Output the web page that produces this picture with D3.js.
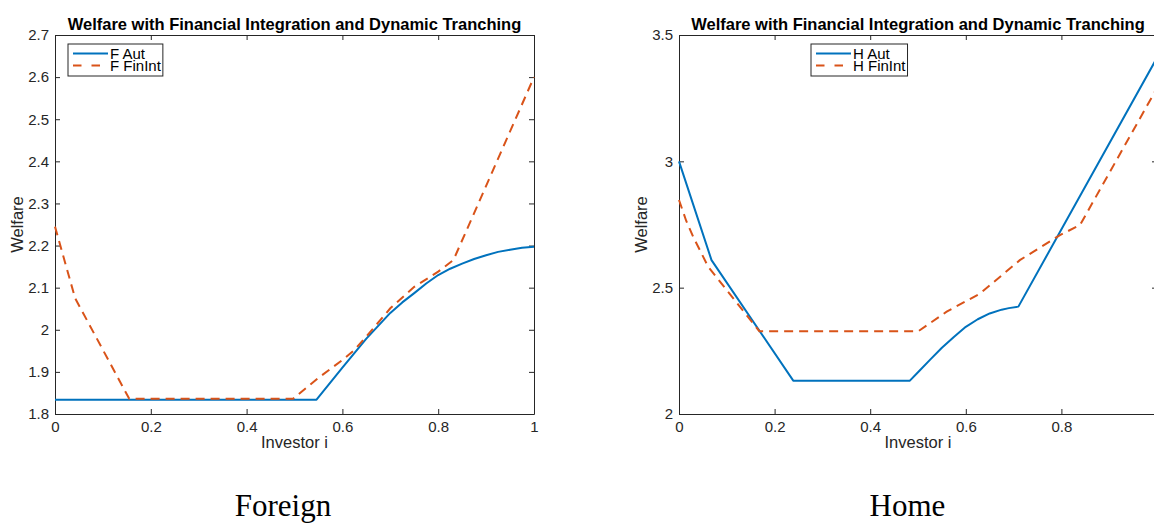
<!DOCTYPE html>
<html>
<head>
<meta charset="utf-8">
<script src="https://cdn.jsdelivr.net/npm/d3@7"></script>
<style>
  html, body { margin: 0; padding: 0; background: #fff; }
  svg { display: block; }
  text { font-family: "Liberation Sans", Arial, Helvetica, sans-serif; }
</style>
</head>
<body>
<svg id="chart" width="1154" height="523"></svg>
<script>
// values
const xTicks = [0, 0.2, 0.4, 0.6, 0.8, 1];
const foreignYTicks = [1.8, 1.9, 2.0, 2.1, 2.2, 2.3, 2.4, 2.5, 2.6, 2.7];
const homeYTicks = [2, 2.5, 3, 3.5];

const foreignAutX = [0, 0.546, 0.60, 0.65, 0.70, 0.725, 0.75, 0.775, 0.80, 0.825, 0.85, 0.875, 0.90, 0.925, 0.95, 0.975, 1.0];
const foreignAutY = [1.834, 1.834, 1.910, 1.979, 2.040, 2.065, 2.087, 2.110, 2.130, 2.145, 2.157, 2.168, 2.177, 2.185, 2.190, 2.195, 2.197];

const foreignFinX = [0, 0.042, 0.155, 0.497, 0.55, 0.60, 0.625, 0.65, 0.70, 0.75, 0.80, 0.832, 1.0];
const foreignFinY = [2.245, 2.075, 1.836, 1.836, 1.886, 1.928, 1.952, 1.984, 2.051, 2.102, 2.138, 2.166, 2.60];

const homeAutX = [0, 0.068, 0.239, 0.483, 0.50, 0.525, 0.55, 0.575, 0.60, 0.625, 0.65, 0.675, 0.69, 0.71, 1.0];
const homeAutY = [3.0, 2.609, 2.132, 2.132, 2.165, 2.214, 2.262, 2.305, 2.345, 2.375, 2.398, 2.413, 2.419, 2.425, 3.41];

const homeFinX = [0, 0.015, 0.03, 0.061, 0.168, 0.501, 0.56, 0.63, 0.713, 0.797, 0.839, 1.0];
const homeFinY = [2.847, 2.765, 2.70, 2.583, 2.328, 2.328, 2.405, 2.477, 2.609, 2.708, 2.748, 3.29];

const titleText = 'Welfare with Financial Integration and Dynamic Tranching';
const blue = '#0072BD';
const orange = '#D95319';
const axisColor = '#262626';
const svgWidth = 1154;

const svg = d3.select('#chart');

const zip = (xs, ys) => xs.map((x, i) => [x, ys[i]]);
const fmt = d => String(+d.toFixed(2));

function drawPanel(cfg) {
  const x = d3.scaleLinear().domain([0, 1]).range([cfg.left, cfg.right]);
  const y = d3.scaleLinear().domain(cfg.yDomain).range([cfg.bottom, cfg.top]);
  const g = svg.append('g');

  const styleAxis = (sel) => {
    sel.select('.domain').attr('stroke', axisColor).attr('stroke-width', 1);
    sel.selectAll('.tick line').attr('stroke', axisColor);
    sel.selectAll('.tick text')
      .attr('fill', axisColor)
      .style('font-size', '15px')
      .style('font-family', '"Liberation Sans", Arial, Helvetica, sans-serif');
  };

  // tick labels that fall past the page edge are not shown (the figure is cropped there)
  const xFmt = d => (x(d) + 4 > svgWidth ? '' : fmt(d));

  g.append('g')
    .attr('transform', `translate(0,${cfg.bottom})`)
    .call(d3.axisBottom(x).tickValues(xTicks).tickFormat(xFmt)
      .tickSizeInner(-5).tickSizeOuter(0).tickPadding(7))
    .call(styleAxis);
  g.append('g')
    .attr('transform', `translate(0,${cfg.top})`)
    .call(d3.axisTop(x).tickValues(xTicks).tickFormat('')
      .tickSizeInner(-5).tickSizeOuter(0))
    .call(styleAxis);
  g.append('g')
    .attr('transform', `translate(${cfg.left},0)`)
    .call(d3.axisLeft(y).tickValues(cfg.yTicks).tickFormat(fmt)
      .tickSizeInner(-5).tickSizeOuter(0).tickPadding(6))
    .call(styleAxis);
  g.append('g')
    .attr('transform', `translate(${cfg.right},0)`)
    .call(d3.axisRight(y).tickValues(cfg.yTicks).tickFormat('')
      .tickSizeInner(-5).tickSizeOuter(0))
    .call(styleAxis);

  const line = d3.line().x(d => x(d[0])).y(d => y(d[1]));

  g.append('path')
    .datum(zip(cfg.autX, cfg.autY))
    .attr('d', line)
    .attr('fill', 'none')
    .attr('stroke', blue)
    .attr('stroke-width', 2)
    .attr('stroke-linejoin', 'round');

  g.append('path')
    .datum(zip(cfg.finX, cfg.finY))
    .attr('d', line)
    .attr('fill', 'none')
    .attr('stroke', orange)
    .attr('stroke-width', 2)
    .attr('stroke-dasharray', '9,6');

  // title
  g.append('text')
    .attr('x', (cfg.left + cfg.right) / 2)
    .attr('y', 30)
    .attr('text-anchor', 'middle')
    .style('font-size', '16.5px')
    .style('font-weight', 'bold')
    .attr('fill', '#000')
    .text(titleText);

  // axis labels
  g.append('text')
    .attr('x', (cfg.left + cfg.right) / 2)
    .attr('y', 448)
    .attr('text-anchor', 'middle')
    .style('font-size', '16.5px')
    .attr('fill', axisColor)
    .text('Investor i');

  g.append('text')
    .attr('transform', `translate(${cfg.left - 32},${(cfg.top + cfg.bottom) / 2}) rotate(-90)`)
    .attr('text-anchor', 'middle')
    .style('font-size', '16.5px')
    .attr('fill', axisColor)
    .text('Welfare');

  // legend
  const lg = g.append('g');
  const box = lg.append('rect')
    .attr('x', cfg.legendX)
    .attr('y', 44)
    .attr('height', 32)
    .attr('fill', '#fff')
    .attr('stroke', axisColor)
    .attr('stroke-width', 1);
  const rows = [
    { label: cfg.autLabel, color: blue, dash: null, y: 53.5 },
    { label: cfg.finLabel, color: orange, dash: '8.5,10', y: 65.5 }
  ];
  let textEnd = 0;
  rows.forEach(r => {
    lg.append('line')
      .attr('x1', cfg.legendX + 5).attr('x2', cfg.legendX + 40)
      .attr('y1', r.y).attr('y2', r.y)
      .attr('stroke', r.color)
      .attr('stroke-width', 2)
      .attr('stroke-dasharray', r.dash);
    const t = lg.append('text')
      .attr('x', cfg.legendX + 42)
      .attr('y', r.y + 5.2)
      .style('font-size', '15px')
      .attr('fill', '#000')
      .text(r.label);
    textEnd = Math.max(textEnd, cfg.legendX + 42 + t.node().getComputedTextLength());
  });
  box.attr('width', textEnd + 2 - cfg.legendX);

  // caption
  svg.append('text')
    .attr('x', cfg.captionX)
    .attr('y', 516)
    .attr('text-anchor', 'middle')
    .style('font-family', '"Liberation Serif", "Times New Roman", Times, serif')
    .style('font-size', '31px')
    .attr('fill', '#000')
    .text(cfg.caption);
}

drawPanel({
  left: 55, right: 534, top: 35, bottom: 414,
  yDomain: [1.8, 2.7], yTicks: foreignYTicks,
  autX: foreignAutX, autY: foreignAutY,
  finX: foreignFinX, finY: foreignFinY,
  autLabel: 'F Aut', finLabel: 'F FinInt',
  legendX: 68,
  caption: 'Foreign', captionX: 283
});

drawPanel({
  left: 679, right: 1157, top: 35, bottom: 414,
  yDomain: [2, 3.5], yTicks: homeYTicks,
  autX: homeAutX, autY: homeAutY,
  finX: homeFinX, finY: homeFinY,
  autLabel: 'H Aut', finLabel: 'H FinInt',
  legendX: 811,
  caption: 'Home', captionX: 907.5
});
</script>
</body>
</html>
